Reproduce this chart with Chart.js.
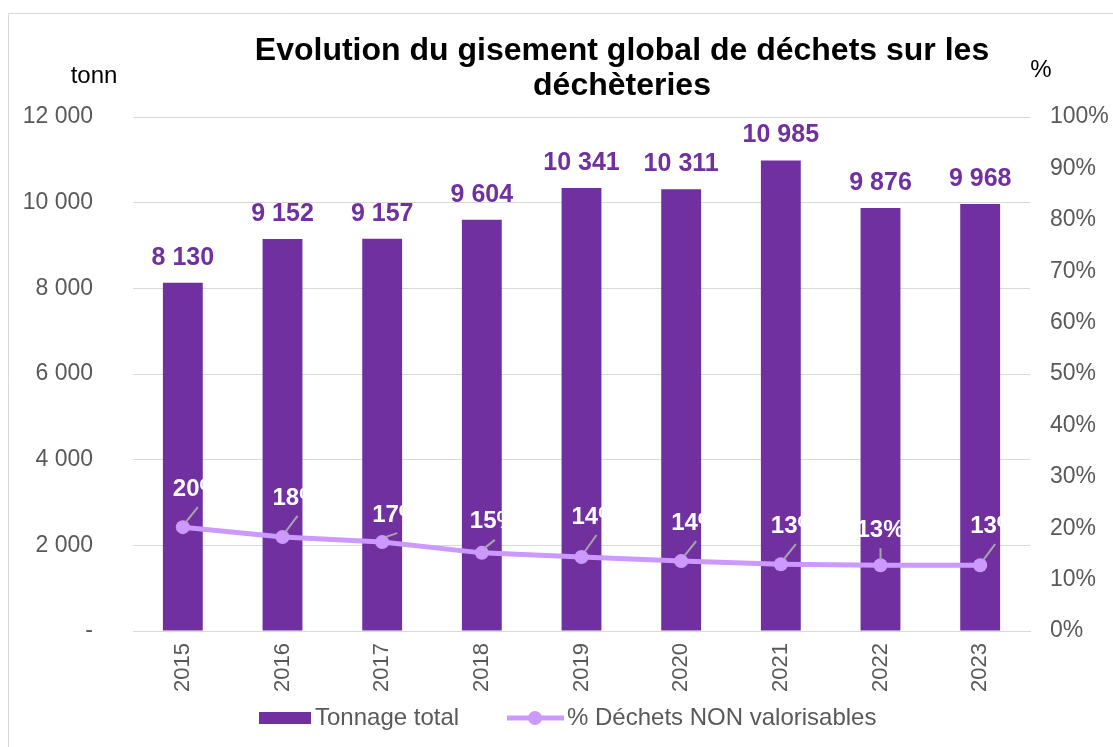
<!DOCTYPE html>
<html>
<head>
<meta charset="utf-8">
<script src="https://cdn.jsdelivr.net/npm/chart.js@4/dist/chart.umd.min.js"></script>
<style>
  html, body { margin: 0; padding: 0; background: #fff; }
  #wrap { width: 1113px; height: 747px; position: relative; }
</style>
</head>
<body>
<div id="wrap"><canvas id="dechetsChart" width="1113" height="747"></canvas></div>
<script>
// Data
let years = ["2015", "2016", "2017", "2018", "2019", "2020", "2021", "2022", "2023"];
let tonnage = [8130, 9152, 9157, 9604, 10341, 10311, 10985, 9876, 9968];
let pctNonValo = [20.2, 18.3, 17.3, 15.2, 14.4, 13.6, 13.0, 12.8, 12.8];
let pctLabels = ["20%", "18%", "17%", "15%", "14%", "14%", "13%", "13%", "13%"];

let barColour = "#7030A0";
let lineColour = "#CC99FF";
let greyText = "#595959";
let font = "'Liberation Sans', Arial, sans-serif";

// offsets of the % labels from their point (dx, dy)
let pctOffsets = [[14, -38], [14, -39], [14, -27], [12, -31], [14, -40], [14, -38], [14, -38], [0, -35], [14, -39]];

function fmtThousands(v) {
  return String(v).replace(/\B(?=(\d{3})+(?!\d))/g, " ");
}

let decorPlugin = {
  id: "decor",
  beforeDraw: function (chart) {
    let ctx = chart.ctx;
    ctx.save();
    ctx.fillStyle = "#fff";
    ctx.fillRect(0, 0, chart.width, chart.height);
    // frame
    ctx.strokeStyle = "#D9D9D9";
    ctx.lineWidth = 1;
    ctx.beginPath();
    ctx.moveTo(8.5, 760);
    ctx.lineTo(8.5, 13.5);
    ctx.lineTo(1120, 13.5);
    ctx.stroke();
    ctx.restore();
  },
  afterDraw: function (chart) {
    let ctx = chart.ctx;
    ctx.save();
    // title
    ctx.fillStyle = "#000";
    ctx.font = "bold 32px " + font;
    ctx.textAlign = "center";
    ctx.textBaseline = "middle";
    ctx.fillText("Evolution du gisement global de déchets sur les", 622, 51);
    ctx.fillText("déchèteries", 622, 86);
    // axis units
    ctx.font = "24px " + font;
    ctx.fillText("tonn", 94, 76);
    ctx.fillText("%", 1041, 70);

    // bar value labels
    let barMeta = chart.getDatasetMeta(1);
    ctx.fillStyle = barColour;
    ctx.font = "bold 25px " + font;
    barMeta.data.forEach(function (bar, i) {
      ctx.fillText(fmtThousands(tonnage[i]), bar.x, bar.y - 25);
    });

    // % labels with leader lines
    let lineMeta = chart.getDatasetMeta(0);
    lineMeta.data.forEach(function (pt, i) {
      let dx = pctOffsets[i][0];
      let dy = pctOffsets[i][1];
      ctx.strokeStyle = "#A6A6A6";
      ctx.lineWidth = 2;
      ctx.beginPath();
      ctx.moveTo(pt.x + (dx ? 3 : 0), pt.y - 5);
      ctx.lineTo(pt.x + (dx ? dx + 1 : 0), pt.y + dy + 18);
      ctx.stroke();
      ctx.fillStyle = "#fff";
      ctx.font = "bold 24px " + font;
      ctx.fillText(pctLabels[i], pt.x + dx, pt.y + dy);
    });

    // legend
    ctx.fillStyle = barColour;
    ctx.fillRect(259, 712, 52, 12);
    ctx.strokeStyle = lineColour;
    ctx.lineWidth = 5;
    ctx.beginPath();
    ctx.moveTo(507, 718);
    ctx.lineTo(564, 718);
    ctx.stroke();
    ctx.fillStyle = lineColour;
    ctx.beginPath();
    ctx.arc(535, 718, 7, 0, Math.PI * 2);
    ctx.fill();
    ctx.fillStyle = greyText;
    ctx.font = "24px " + font;
    ctx.textAlign = "left";
    ctx.fillText("Tonnage total", 315, 718);
    ctx.fillText("% Déchets NON valorisables", 567, 718);
    ctx.restore();
  }
};

let ctx = document.getElementById("dechetsChart").getContext("2d");
let dechetsChart = new Chart(ctx, {
  type: "bar",
  data: {
    labels: years,
    datasets: [
      {
        type: "line",
        label: "% Déchets NON valorisables",
        data: pctNonValo,
        yAxisID: "yPct",
        borderColor: lineColour,
        backgroundColor: lineColour,
        borderWidth: 5,
        pointRadius: 7,
        pointHoverRadius: 7,
        pointBackgroundColor: lineColour,
        pointBorderWidth: 0,
        tension: 0,
        order: 0
      },
      {
        label: "Tonnage total",
        data: tonnage,
        yAxisID: "y",
        backgroundColor: barColour,
        borderWidth: 0,
        barPercentage: 0.4,
        categoryPercentage: 1.0,
        order: 1
      }
    ]
  },
  options: {
    responsive: false,
    animation: false,
    layout: { padding: { top: 117, left: 0, right: 0, bottom: 0 } },
    plugins: {
      legend: { display: false },
      title: { display: false },
      tooltip: { enabled: false }
    },
    scales: {
      x: {
        grid: { display: false },
        border: { display: true, color: "#D9D9D9", width: 1 },
        ticks: {
          color: greyText,
          font: { family: font, size: 22 },
          minRotation: 90,
          maxRotation: 90,
          padding: 4
        },
        afterFit: function (scale) { scale.height = 116; }
      },
      y: {
        position: "left",
        min: 0,
        max: 12000,
        ticks: {
          stepSize: 2000,
          color: greyText,
          font: { family: font, size: 23 },
          padding: 40,
          callback: function (v) { return v === 0 ? "-" : fmtThousands(v); }
        },
        grid: { color: "#D9D9D9", lineWidth: 1, drawTicks: false },
        border: { display: false },
        afterFit: function (scale) { scale.width = 133; }
      },
      yPct: {
        position: "right",
        min: 0,
        max: 100,
        ticks: {
          stepSize: 10,
          color: greyText,
          font: { family: font, size: 23 },
          padding: 20,
          callback: function (v) { return v + "%"; }
        },
        grid: { display: false, drawTicks: false },
        border: { display: false },
        afterFit: function (scale) { scale.width = 83; }
      }
    }
  },
  plugins: [decorPlugin]
});
</script>
</body>
</html>
